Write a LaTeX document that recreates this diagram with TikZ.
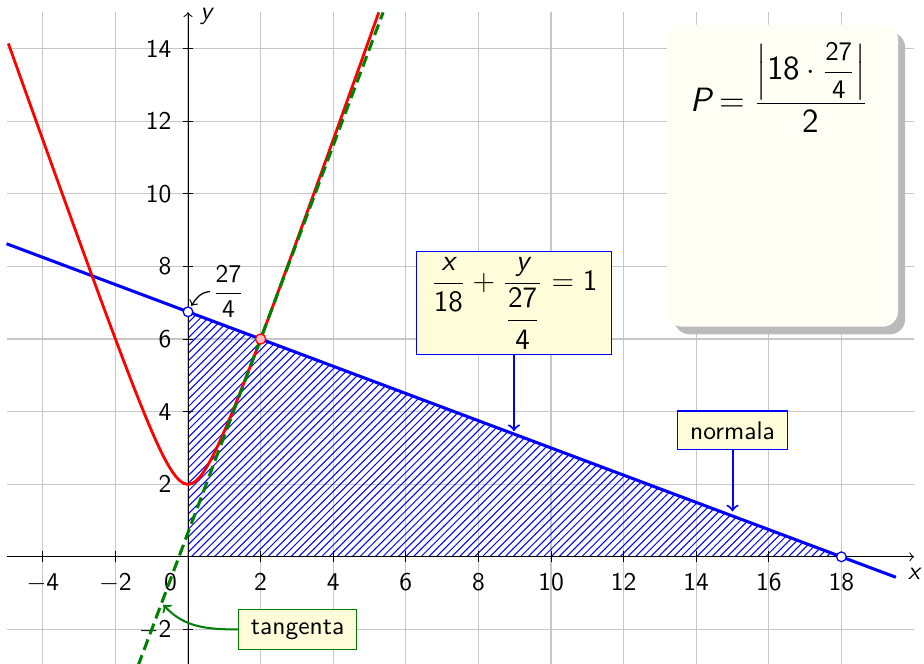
\documentclass[tikz,border=0pt]{standalone}
\usepackage{amsmath}
\SetSymbolFont{operators}{normal}{TU}{lmss}{m}{n}
\SetSymbolFont{letters}{normal}{TU}{lmss}{m}{sl}
\usetikzlibrary{patterns}
\begin{document}
\begin{tikzpicture}[x=0.5cm,y=0.5cm,font=\sffamily,
  gridline/.style={black!22,line width=0.45pt},
  axisline/.style={black,line width=0.4pt,->},
  tickmark/.style={black,line width=0.4pt},
  lblbox/.style={fill=yellow!15,line width=0.5pt,inner xsep=4.8pt,inner ysep=4pt},
  openpt/.style={circle,draw=blue,fill=white,line width=0.5pt,inner sep=0pt,minimum size=3.8pt},
  redpt/.style={circle,draw=red,fill=red!25,line width=0.5pt,inner sep=0pt,minimum size=4pt},
  normalline/.style={blue,line width=1.2pt},
  curveline/.style={red,line width=1.1pt},
  tangline/.style={green!50!black,line width=1.2pt,dash pattern=on 4.4pt off 2.2pt},
  callout/.style={line width=0.8pt,->}
]
\useasboundingbox (-5.18,-2.95) rectangle (20.275,15.34);
% grid
\foreach \x in {-4,-2,...,18} \draw[gridline] (\x,-3) -- (\x,15);
\foreach \y in {-2,0,...,14} \draw[gridline] (-5,\y) -- (20,\y);
% info box with shadow
\begin{scope}[shift={(2.8pt,-3pt)}]
  \fill[black!27,rounded corners=6pt] (13.2,6.34) rectangle (19.56,14.66);
\end{scope}
\fill[yellow!4,rounded corners=6pt] (13.2,6.34) rectangle (19.56,14.66);
\node[font=\sffamily\fontsize{13.2}{16}\selectfont] (P) at (16.29,12.93) {$P=\dfrac{\left|18\cdot\mbox{\fontsize{10.5}{12}\selectfont$\dfrac{27}{4}$}\right|}{2}$};
% hatched triangle
\fill[pattern=north east lines,pattern color=blue] (0,0) -- (18,0) -- (0,6.75) -- cycle;
% axes
\draw[axisline] (-5,0) -- (20,0);
\draw[axisline] (0,-3) -- (0,15);
\foreach \x in {-4,-2,2,4,...,18} \draw[tickmark] (\x,-0.15) -- (\x,0.15);
\foreach \y in {-2,2,4,...,14} \draw[tickmark] (-0.15,\y) -- (0.15,\y);
\foreach \x in {-4,-2,2,4,...,18} \node[anchor=north] (xl\x) at (\x,-0.21) {$\x$};
\node[anchor=north] (xl0) at (-0.48,-0.21) {$0$};
\foreach \y in {-2,2,4,...,14} \node[anchor=east] (yl\y) at (-0.21,\y) {$\y$};
\node (xlab) at (20,-0.47) {$x$};
\node (ylab) at (0.5,14.89) {$y$};
% lines and curve
\draw[normalline] (-5,8.625) -- (19.5,-0.5625);
\draw[curveline] plot[domain=-4.95:5.256,samples=200,smooth] (\x,{sqrt(8*\x*\x+4)});
\draw[tangline] (-1.375,-3) -- (5.375,15);
% points
\node[openpt] (A) at (0,6.75) {};
\node[openpt] (B) at (18,0) {};
\node[redpt] (C) at (2,6) {};
% labels
\node (f274) at (1.115,7.31) {$\dfrac{27}{4}$};
\draw[->,line width=0.5pt,shorten >=0.5pt] ([xshift=2.5pt]f274.west) to[out=185,in=60] (A);
\node[lblbox,draw=blue,inner xsep=5.6pt,inner ysep=2.2pt,font=\sffamily\fontsize{11.6}{14}\selectfont] (eq) at (8.98,6.99) {$\dfrac{x}{18}+\dfrac{y}{\dfrac{27}{4}}=1$};
\coordinate (eqend) at (8.98,3.38);
\draw[callout,blue,shorten >=1.2pt] (eq.south) -- (eqend);
\node[lblbox,draw=blue] (nor) at (15,3.485) {normala};
\coordinate (norend) at (15,1.125);
\draw[callout,blue,shorten >=1.8pt] (nor.south) -- (norend);
\node[lblbox,draw=green!50!black] (tan) at (3.02,-2.0) {tangenta};
\coordinate (tanend) at (-0.68,-1.32);
\draw[callout,green!50!black] (tan.west) to[out=180,in=-48] (tanend);
\end{tikzpicture}
\end{document}
